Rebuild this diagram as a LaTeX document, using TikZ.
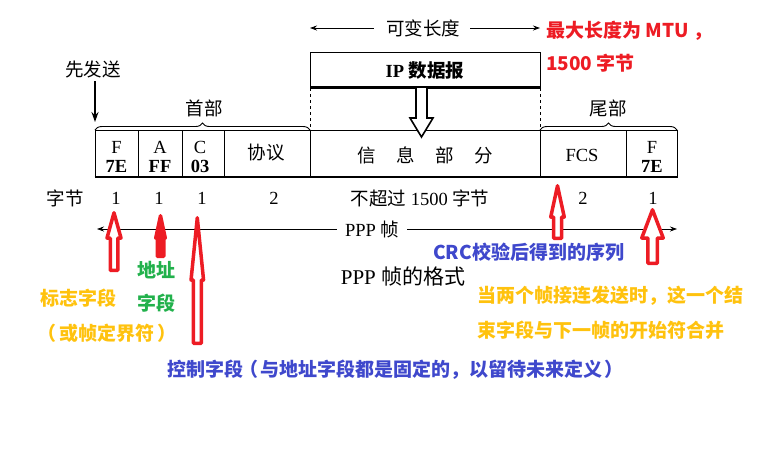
\documentclass[tikz,border=0pt]{standalone}
\usepackage{fontspec}
\setmainfont{Liberation Serif}
\newfontfamily\zh{Noto Sans CJK SC}
\usetikzlibrary{arrows.meta,decorations.pathreplacing}
\definecolor{pred}{HTML}{ED1C24}
\definecolor{pgold}{HTML}{FFC20E}
\definecolor{pgreen}{HTML}{22B14C}
\definecolor{pblue}{HTML}{3F48CC}
\newcommand{\upArrow}[7][]{\draw[redarrow,#1] (#2,#3) -- ({#2+#5},#4) -- ({#2+#6},#4) -- ({#2+#6},#7) -- ({#2-#6},#7) -- ({#2-#6},#4) -- ({#2-#5},#4) -- cycle;}
\begin{document}
\begin{tikzpicture}[x=1pt,y=-1pt,
  zhl/.style={font=\fontsize{18.5}{21}\selectfont\zh, inner sep=0pt},
  lat/.style={font=\fontsize{18.5}{21}\selectfont, inner sep=0pt},
  fld/.style={font=\fontsize{18.5}{20}\selectfont, inner sep=0pt, align=center},
  note/.style={font=\fontsize{19}{22}\selectfont\zh\bfseries, inner sep=0pt, anchor=west},
  redarrow/.style={draw=pred, line width=3.5pt, fill=white, line join=round},
  thinarrow/.style={-{Stealth[length=7pt,width=5pt]}, line width=0.8pt},
  framebox/.style={line width=1pt},
  bracestyle/.style={decorate, decoration={brace, amplitude=7pt}, line width=0.9pt},
]
\useasboundingbox (0,0) rectangle (778,467);

% ---- IP datagram box
\node[draw, line width=1pt, minimum width=230, minimum height=36, inner sep=0pt] (ip) at (425,70) {};
\draw[line width=2.5pt] (310,87) -- (540,87);
\node[font=\fontsize{18.5}{20}\selectfont\bfseries, inner sep=0pt] (iplbl) at (425,71) {IP {\zh\bfseries 数据报}};

% ---- variable length
\node[zhl] (var) at (423,28) {可变长度};
\coordinate (varL) at (310,28);
\coordinate (varR) at (540,28);
\draw[thinarrow] ([xshift=-12pt]var.west) -- (varL);
\draw[thinarrow] ([xshift=10pt]var.east) -- (varR);

% ---- dashed guides
\draw[dashed, line width=0.8pt] (310,88) -- (310,130);
\draw[dashed, line width=0.8pt] (540,88) -- (540,130);

% ---- frame
\draw[framebox] (95,178) -- (95,130) -- (677,130) -- (677,178);
\draw[line width=2.5pt] (94.5,177) -- (677.5,177);
\foreach \xx in {138,182,224,310,540,626} \draw[framebox] (\xx,130) -- (\xx,178);

% ---- hollow down arrow
\draw[line width=1.6pt, fill=white, line join=miter] (416,88) -- (416,118) -- (410,118) -- (421.5,137) -- (433,118) -- (427,118) -- (427,88);

% ---- field labels
\node[fld] (fF) at (116.5,157) {F\\[-1pt]\textbf{7E}};
\node[fld] (fA) at (160,157) {A\\[-1pt]\textbf{FF}};
\node[fld] (fC) at (200,157) {C\\[-1pt]\textbf{03}};
\node[zhl] (fP) at (266,153) {协议};
\node[zhl] (fI) at (425,155) {信\hspace{1.1em}息\hspace{1.1em}部\hspace{1.1em}分};
\node[lat] (fS) at (582,155) {FCS};
\node[fld] (fE) at (652,157) {F\\[-1pt]\textbf{7E}};

% ---- braces
\draw[bracestyle] (95,130) -- (310,130);
\draw[bracestyle] (540,130) -- (677,130);
\node[zhl] (head) at (204,108) {首部};
\node[zhl] (tail) at (608,108) {尾部};

% ---- first sent
\node[zhl] (send) at (93,69) {先发送};
\coordinate (sendtip) at (95,122);
\draw[-{Stealth[length=10pt,width=7pt]}, line width=1.8pt] (95,81) -- (sendtip);

% ---- byte counts
\node[zhl] (bytes) at (65,198) {字节};
\node[lat] (b1) at (116,198) {1};
\node[lat] (b2) at (159,198) {1};
\node[lat] (b3) at (202,198) {1};
\node[lat] (b4) at (274,198) {2};
\node[lat] (b5) at (420,198) {{\zh 不超过} 1500 {\zh 字节}};
\node[lat] (b6) at (583,198) {2};
\node[lat] (b7) at (653,198) {1};

% ---- PPP frame arrow
\node[lat] (ppp) at (372,229) {PPP {\zh 帧}};
\coordinate (pppL) at (97,229);
\coordinate (pppR) at (677,229);
\draw[thinarrow, line width=0.7pt] ([xshift=-8pt]ppp.west) -- (pppL);
\draw[thinarrow, line width=0.7pt] ([xshift=8pt]ppp.east) -- (pppR);

\node[font=\fontsize{21}{24}\selectfont, inner sep=0pt] (caption) at (403,276) {PPP {\zh 帧的格式}};

% ---- red arrows
\upArrow{114}{212.75}{238}{7}{3.75}{270.25}
\upArrow[fill=pred]{160.5}{215.75}{238}{4.75}{3.25}{256.25}
\upArrow{197.3}{217.75}{280}{6.25}{4}{343.25}
\upArrow{557.5}{185.75}{217}{6.75}{4}{238.25}
\upArrow{652.5}{209.75}{238}{10.75}{4.75}{263.25}

% ---- notes
\node[note, text=pred] (mtu1) at (546,31) {最大长度为 MTU ，};
\node[note, text=pred] (mtu2) at (546,63) {1500 字节};
\node[note, text=pblue] (crc) at (433,252) {CRC校验后得到的序列};
\node[note, text=pgold] (merge1) at (477,296) {当两个帧接连发送时，这一个结};
\node[note, text=pgold] (merge2) at (477,330) {束字段与下一帧的开始符合并};
\node[note, text=pgreen, anchor=center] (addr1) at (156,270) {地址};
\node[note, text=pgreen, anchor=center] (addr2) at (156,303) {字段};
\node[note, text=pgold, anchor=center] (flag1) at (78,298) {标志字段};
\node[note, text=pgold, anchor=center] (flag2) at (110,333) {\hspace{-0.3em}（\hspace{0.15em}或帧定界符\hspace{0.15em}）\hspace{-0.3em}};
\node[note, text=pblue] (ctrl) at (167,370) {控制字段\hspace{-0.2em}（\hspace{0.1em}与地址字段都是固定的，以留待未来定义\hspace{0.1em}）};
\end{tikzpicture}
\end{document}
